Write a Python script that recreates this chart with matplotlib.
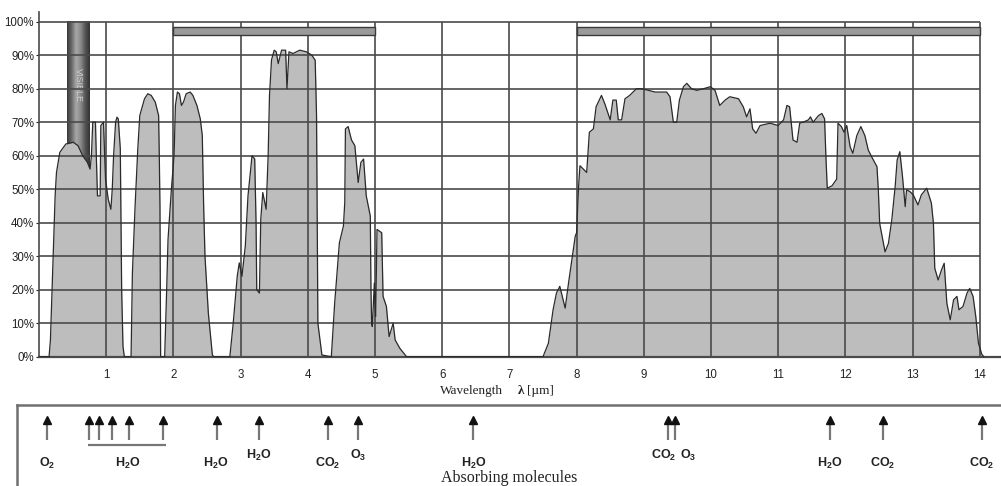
import numpy as np
import matplotlib
matplotlib.use("Agg")
import matplotlib.pyplot as plt
from matplotlib.patches import Rectangle
from matplotlib.colors import LinearSegmentedColormap

plt.rcParams['font.family'] = ['Liberation Sans', 'DejaVu Sans']
plt.rcParams['mathtext.fontset'] = 'custom'
plt.rcParams['mathtext.bf'] = 'Liberation Sans:bold'
plt.rcParams['mathtext.rm'] = 'Liberation Sans'

# ---------------- data ----------------
wavelength = [0.00, 0.15, 0.17, 0.21, 0.24, 0.26, 0.31, 0.40, 0.51, 0.58, 0.65, 0.72, 0.76, 0.78,
              0.80, 0.84, 0.85, 0.87, 0.91, 0.92, 0.96, 0.97, 0.99, 1.03, 1.07, 1.09, 1.11, 1.14,
              1.16, 1.18, 1.21, 1.22, 1.23, 1.25, 1.27, 1.37, 1.39, 1.43, 1.47, 1.50, 1.57, 1.62,
              1.67, 1.73, 1.78, 1.79, 1.80, 1.81, 1.87, 1.90, 1.92, 1.97, 2.01, 2.03, 2.06, 2.09,
              2.12, 2.15, 2.19, 2.25, 2.29, 2.35, 2.40, 2.43, 2.45, 2.47, 2.52, 2.58, 2.60, 2.84,
              2.89, 2.95, 2.98, 3.02, 3.07, 3.11, 3.17, 3.21, 3.23, 3.24, 3.28, 3.30, 3.33, 3.38,
              3.41, 3.43, 3.46, 3.50, 3.53, 3.56, 3.61, 3.67, 3.69, 3.72, 3.78, 3.88, 3.98, 4.06,
              4.11, 4.13, 4.15, 4.21, 4.35, 4.40, 4.47, 4.53, 4.55, 4.56, 4.60, 4.65, 4.70, 4.75,
              4.79, 4.83, 4.87, 4.93, 4.94, 4.95, 4.96, 4.99, 5.01, 5.03, 5.10, 5.12, 5.17, 5.21,
              5.27, 5.30, 5.37, 5.47, 7.50, 7.58, 7.65, 7.70, 7.75, 7.83, 7.88, 7.93, 7.98, 8.00,
              8.03, 8.05, 8.10, 8.15, 8.19, 8.25, 8.29, 8.37, 8.42, 8.50, 8.54, 8.59, 8.62, 8.67,
              8.72, 8.79, 8.89, 8.97, 9.07, 9.17, 9.27, 9.34, 9.39, 9.44, 9.49, 9.53, 9.59, 9.64,
              9.71, 9.79, 9.89, 9.99, 10.06, 10.13, 10.21, 10.28, 10.41, 10.48, 10.53, 10.58,
              10.62, 10.67, 10.73, 10.88, 11.00, 11.08, 11.13, 11.17, 11.22, 11.28, 11.32, 11.37,
              11.45, 11.48, 11.52, 11.60, 11.65, 11.69, 11.71, 11.73, 11.80, 11.87, 11.89, 11.94,
              11.98, 12.02, 12.07, 12.11, 12.17, 12.23, 12.29, 12.34, 12.39, 12.47, 12.49, 12.51,
              12.59, 12.64, 12.69, 12.74, 12.77, 12.81, 12.85, 12.89, 12.91, 12.96, 13.01, 13.08,
              13.13, 13.21, 13.28, 13.31, 13.33, 13.38, 13.43, 13.47, 13.51, 13.56, 13.61, 13.66,
              13.69, 13.75, 13.81, 13.85, 13.90, 13.94, 13.98, 14.03, 14.06]
transmission = [0, 0, 5, 30, 48, 55, 61, 63.5, 64, 63, 60, 58, 56, 60,
                70, 70, 62, 48, 48, 69, 70, 64, 53, 47, 44, 50, 60, 70,
                71.5, 71, 62, 40, 20, 3, 0, 0, 25, 45, 62, 72, 77, 78.5,
                78, 76, 72, 60, 45, 0, 0, 20, 35, 50, 60, 75, 79, 78.5,
                75, 76, 78.5, 79, 78, 75, 71, 66, 45, 30, 13, 0.5, 0, 0,
                10, 24, 28, 24, 33, 48, 60, 59, 40, 20, 19, 41, 49, 44,
                60, 78, 88.6, 91.5, 91, 87.5, 91.5, 91.5, 80, 91, 90.5, 91.5, 91, 90,
                88.5, 72, 10, 0.5, 0, 16, 34, 39, 46, 68, 68.7, 64.7, 63, 52,
                58, 59, 48, 42, 20, 10, 9, 22, 12, 38, 37, 18, 15, 6,
                10, 5, 2.5, 0, 0, 4, 14, 19, 21, 14.5, 22, 29, 36, 37,
                51, 57, 56, 55, 67, 68, 74.6, 78, 75.5, 70.7, 76.6, 76.6, 70.7, 70.7,
                77, 78, 80, 80, 79.5, 79, 79, 79, 77.6, 70, 70, 76.6, 80.6, 81.6,
                80, 79.5, 80, 80.6, 79.5, 75, 76.6, 77.6, 77, 74.6, 71.6, 74,
                68, 66.7, 69, 69.7, 69, 70.7, 75, 74.6, 64.7, 64, 69.7, 70,
                70.7, 71.6, 70, 72, 72.6, 71, 59.7, 50.3, 51, 53, 69.7, 68.7,
                67, 69, 62.7, 60.7, 66, 68.7, 66, 61.7, 59.7, 56.7, 49.8, 39.8,
                31.3, 33.8, 40.8, 50.7, 58.7, 61.2, 53.7, 44.8, 49.8, 49.3, 48.3, 45.3,
                48.3, 50.3, 45.8, 39.8, 26.4, 22.9, 25.9, 27.9, 15.9, 11, 17, 18,
                14, 15, 19, 20.4, 18, 12, 4, 0.7, 0]

x_ticks = list(range(1, 15))
y_ticks = list(range(0, 101, 10))
y_tick_labels = [f"{v}%" for v in y_ticks]

window_bands = [(2, 5), (8, 14)]
visible_band = (0.41, 0.75)

arrow_x = [0.12, 0.74, 0.89, 1.09, 1.34, 1.85, 2.65, 3.27, 4.30, 4.75, 6.46, 9.36, 9.46,
           11.77, 12.56, 14.03]
molecule_labels = ['O_2', 'H_2O', 'H_2O', 'H_2O', 'CO_2', 'O_3', 'H_2O', 'CO_2', 'O_3',
                   'H_2O', 'CO_2', 'CO_2']
molecule_x = [0.12, 1.32, 2.63, 3.27, 4.30, 4.75, 6.47, 9.29, 9.66, 11.77, 12.56, 14.03]
molecule_row = [0, 0, 0, 1, 0, 1, 0, 1, 1, 0, 0, 0]
h2o_group = (0.73, 1.89)

# ---------------- figure ----------------
W, H = 1001, 486
fig = plt.figure(figsize=(W / 100, H / 100), dpi=100)

x0_px, px_per_um = 39.0, 67.2
y0_px, px_per_pct = 356.7, 3.35
ytop = 103
ax = fig.add_axes([x0_px / W, (H - y0_px) / H, (W - x0_px) / W, ytop * px_per_pct / H])
ax.set_xlim(0, (W - x0_px) / px_per_um)
ax.set_ylim(0, ytop)

grid_c = '#4a4a4a'
# visible band gradient
cm = LinearSegmentedColormap.from_list('cyl', ['#3a3a3a', '#6a6a6a', '#a8a8a8', '#8a8a8a',
                                                '#555555', '#333333'])
grad = np.linspace(0, 1, 64).reshape(1, -1)
ax.imshow(grad, cmap=cm, aspect='auto', extent=(visible_band[0], visible_band[1], 0, 100),
          zorder=1, interpolation='bilinear')
ax.text(sum(visible_band) / 2, 81, 'VISIBLE', rotation=-90, ha='center', va='center',
        fontsize=6.5, color='#cfcfcf', zorder=1.5)

ax.fill_between(wavelength, transmission, 0, color='#bdbdbd', lw=0, zorder=2)
ax.vlines(x_ticks, 0, 100, color=grid_c, lw=1.2, zorder=3)
ax.hlines(y_ticks[1:], 0, 14, color=grid_c, lw=1.2, zorder=3)
ax.plot(wavelength, transmission, color='#2a2a2a', lw=0.9, zorder=4)

for a, b in window_bands:
    ax.add_patch(Rectangle((a, 96.0), b - a, 2.3, facecolor='#9a9a9a', edgecolor='#3a3a3a',
                           lw=1.0, zorder=5))

for s in ['top', 'right']:
    ax.spines[s].set_visible(False)
ax.spines['left'].set_color(grid_c)
ax.spines['bottom'].set_color(grid_c)
ax.spines['left'].set_linewidth(1.2)
ax.spines['bottom'].set_linewidth(1.6)
ax.set_xticks(x_ticks)
ax.set_xticklabels([str(v) for v in x_ticks])
ax.set_yticks(y_ticks)
ax.set_yticklabels(y_tick_labels)
ax.tick_params(axis='x', length=0, pad=8.5, labelsize=8.3, colors='#222222')
ax.tick_params(axis='y', length=2, pad=1.5, labelsize=8.3, colors='#222222')

# axis label: Wavelength λ [µm]
fig.text(440 / W, 1 - 391 / H, 'Wavelength', ha='left', va='center', fontsize=9.5,
         family='Liberation Serif', color='#222222')
fig.text(518 / W, 1 - 391 / H, 'λ', ha='left', va='center', fontsize=9.5,
         family='Liberation Serif', fontweight='bold', color='#222222')
fig.text(527 / W, 1 - 391 / H, '[µm]', ha='left', va='center', fontsize=9.5,
         family='Liberation Serif', color='#222222')

# ---------------- absorbing molecules panel ----------------
box_left_px, box_top_px, box_bottom_px, box_right_px = 17, 405, 500, 1011
ax2 = fig.add_axes([box_left_px / W, (H - box_bottom_px) / H,
                    (box_right_px - box_left_px) / W, (box_bottom_px - box_top_px) / H])
ax2.set_xlim((box_left_px - x0_px) / px_per_um, (box_right_px - x0_px) / px_per_um)
ax2.set_ylim(box_bottom_px, box_top_px)
ax2.set_xticks([])
ax2.set_yticks([])
for s in ['bottom', 'right']:
    ax2.spines[s].set_visible(False)
for s in ['top', 'left']:
    ax2.spines[s].set_color('#707070')
    ax2.spines[s].set_linewidth(1.8)
ax2.patch.set_alpha(0)

ax2.vlines(arrow_x, 421, 440, color='#777777', lw=1.6)
ax2.plot(arrow_x, [419.5] * len(arrow_x), ls='none', marker='^', ms=6, color='#111111',
         mec='#111111')
ax2.hlines(445, h2o_group[0], h2o_group[1], color='#777777', lw=1.6)

row_y = {0: 463, 1: 455}
for lab, xm, r in zip(molecule_labels, molecule_x, molecule_row):
    ax2.text(xm, row_y[r], r'$\mathbf{' + lab + '}$', ha='center', va='center',
             fontsize=9, color='#222222')

ax2.text((509 - x0_px) / px_per_um, 478, 'Absorbing molecules', ha='center', va='center',
         fontsize=11.5, family='Liberation Serif', color='#222222')

fig.savefig('out.png', dpi=100)
